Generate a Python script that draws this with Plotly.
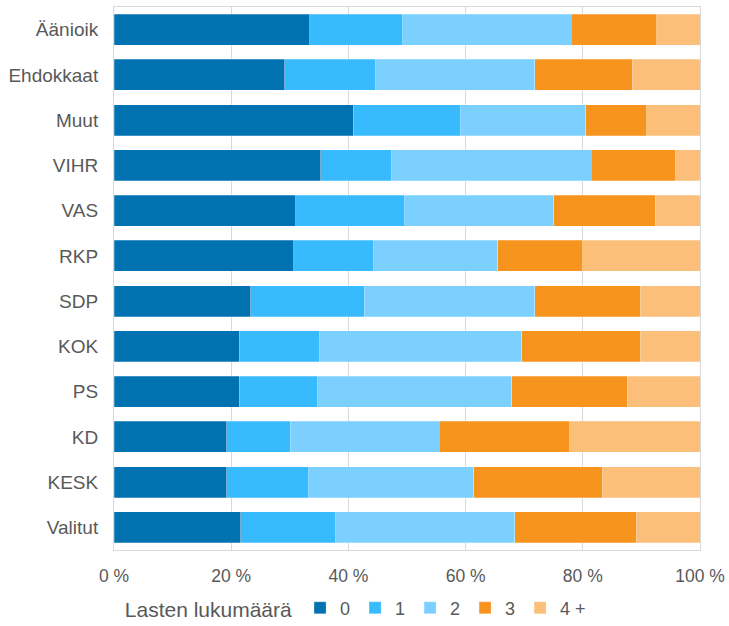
import plotly.graph_objects as go

categories = ["Äänioik", "Ehdokkaat", "Muut", "VIHR", "VAS", "RKP", "SDP",
              "KOK", "PS", "KD", "KESK", "Valitut"]
series_names = ["0", "1", "2", "3", "4 +"]
v0 = [33.4, 29.1, 40.8, 35.3, 31.0, 30.7, 23.3, 21.4, 21.4, 19.2, 19.2, 21.6]
v1 = [15.9, 15.6, 18.4, 12.1, 18.6, 13.6, 19.4, 13.7, 13.4, 10.9, 14.0, 16.2]
v2 = [28.7, 27.1, 21.3, 34.0, 25.4, 21.2, 29.1, 34.5, 33.1, 25.4, 28.2, 30.6]
v3 = [14.6, 16.6, 10.4, 14.5, 17.4, 14.5, 18.0, 20.2, 19.7, 22.3, 21.9, 20.7]
v4 = [7.4, 11.6, 9.1, 4.1, 7.6, 20.0, 10.2, 10.2, 12.4, 22.2, 16.7, 10.9]
tick_vals = [0, 20, 40, 60, 80, 100]
tick_text = ["0 %", "20 %", "40 %", "60 %", "80 %", "100 %"]
legend_title = "Lasten lukumäärä"

colors = ["#0071B1", "#38BAFE", "#7BD0FF", "#F7941E", "#FBBF79"]
values = [v0, v1, v2, v3, v4]

fig = go.Figure()
for name, vals, col in zip(series_names, values, colors):
    fig.add_trace(go.Bar(
        y=categories, x=vals, name=name, orientation="h",
        marker=dict(color=col, line=dict(color="rgba(255,255,255,0.5)", width=0.5)),
        hoverinfo="x+y+name",
    ))

font_family = "Liberation Sans, Arial, sans-serif"
fig.update_layout(
    width=729, height=626,
    barmode="stack", bargap=0.31,
    margin=dict(l=114, r=29, t=7, b=76, autoexpand=False),
    paper_bgcolor="white", plot_bgcolor="white",
    font=dict(family=font_family, color="#595959", size=17),
    showlegend=True,
    legend=dict(
        orientation="h", traceorder="normal",
        x=0.015, xanchor="left", y=-0.108, yanchor="middle",
        title=dict(text=legend_title, side="left", font=dict(size=21, color="#595959")),
        font=dict(size=18, color="#595959"),
        itemwidth=30,
    ),
    xaxis=dict(
        range=[0, 100], tickvals=tick_vals, ticktext=tick_text,
        showgrid=True, gridcolor="#D9D9D9", gridwidth=1,
        showline=True, linecolor="#D9D9D9", linewidth=1, mirror=True,
        zeroline=False, ticks="", ticklabelstandoff=10,
        tickfont=dict(size=17.5, color="#595959"),
        fixedrange=True,
    ),
    yaxis=dict(
        categoryorder="array", categoryarray=categories,
        range=[11.5, -0.5],
        showgrid=False,
        showline=True, linecolor="#D9D9D9", linewidth=1, mirror=True,
        ticks="", ticklabelstandoff=11,
        tickfont=dict(size=19, color="#595959"),
        fixedrange=True,
    ),
)

fig.write_html(
    "out.html",
    config={"displayModeBar": False},
    post_script="document.body.style.margin='0';document.body.style.overflow='hidden';",
)
